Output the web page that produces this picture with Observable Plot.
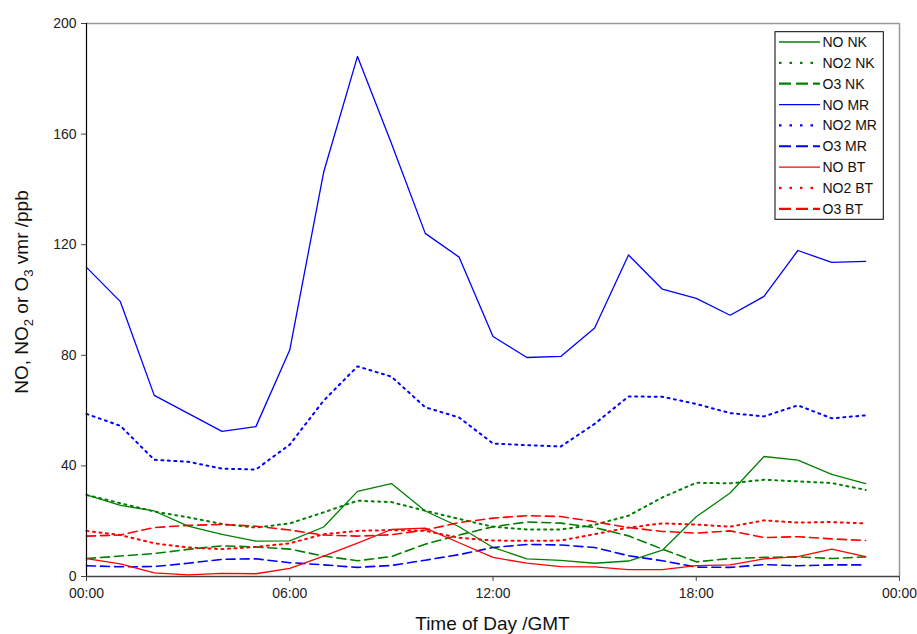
<!DOCTYPE html>
<html>
<head>
<meta charset="utf-8">
<script src="https://cdn.jsdelivr.net/npm/d3@7"></script>
<script src="https://cdn.jsdelivr.net/npm/@observablehq/plot@0.6"></script>
<style>
  html, body { margin: 0; padding: 0; background: #fff; }
  #chart { width: 917px; height: 634px; }
</style>
</head>
<body>
<div id="chart"></div>
<script>
// Hours of day (GMT)
const hours = [0,1,2,3,4,5,6,7,8,9,10,11,12,13,14,15,16,17,18,19,20,21,22,23];

// Series values (ppb)
const noNK  = [29.5,25.7,23.7,18.2,15.2,12.8,12.9,17.9,30.8,33.6,23.7,18.0,10.5,6.4,5.8,4.8,5.6,9.5,21.6,30.2,43.4,42.1,36.9,33.6];
const no2NK = [29.5,26.5,23.5,21.4,19.0,17.7,19.2,23.2,27.4,26.9,23.8,20.8,18.0,17.0,17.0,18.7,22.0,28.6,33.9,33.7,35.0,34.4,33.8,31.3];
const o3NK  = [6.5,7.4,8.3,9.8,11.1,10.7,9.9,7.4,5.7,7.2,11.7,15.0,18.0,19.7,19.3,17.7,14.7,9.9,5.3,6.5,6.9,7.1,6.5,7.1];
const noMR  = [111.8,99.4,65.5,59.0,52.5,54.2,81.9,146.2,188.1,156.7,124.1,115.5,86.8,79.2,79.6,89.9,116.3,103.9,100.6,94.5,101.3,117.9,113.6,114.0];
const no2MR = [58.8,54.5,42.2,41.5,39.0,38.7,47.7,63.6,76.0,72.3,61.2,57.5,48.1,47.5,47.0,55.2,65.1,65.0,62.4,59.1,57.9,61.9,57.2,58.3];
const o3MR  = [3.9,3.5,3.6,4.8,6.2,6.4,5.0,4.2,3.3,4.0,5.9,7.9,10.5,11.6,11.4,10.5,7.5,5.7,3.4,3.3,4.3,3.9,4.2,4.2];
const noBT  = [6.5,4.6,1.3,0.6,1.1,1.0,2.9,7.4,12.1,17.0,17.5,12.2,6.9,4.8,3.6,3.5,2.5,2.5,3.9,4.2,6.4,7.2,9.9,7.2];
const no2BT = [16.5,15.0,12.0,10.5,9.9,10.7,12.0,15.3,16.5,16.8,16.5,14.0,13.0,12.9,13.0,15.3,17.7,19.2,18.8,18.0,20.3,19.5,19.7,19.2];
const o3BT  = [14.6,15.0,17.7,18.5,18.8,18.2,16.8,15.0,14.6,15.1,16.8,19.5,21.1,22.0,21.7,19.8,17.7,16.3,15.7,16.5,14.1,14.4,13.6,13.0];

// Series names (legend order)
const seriesNames = ["NO NK","NO2 NK","O3 NK","NO MR","NO2 MR","O3 MR","NO BT","NO2 BT","O3 BT"];
const seriesValues = [noNK,no2NK,o3NK,noMR,no2MR,o3MR,noBT,no2BT,o3BT];

// Axis ticks
const xTicks = [0,6,12,18,24];
const xTickLabels = ["00:00","06:00","12:00","18:00","00:00"];
const yTicks = [0,40,80,120,160,200];

// Styles
const siteColors = {NK: "#008000", MR: "#0000ff", BT: "#ff0000"};
const styleFor = name => {
  const site = name.split(" ")[1];
  const species = name.split(" ")[0];
  if (species === "NO") return {stroke: siteColors[site], strokeWidth: 1.3, dash: null, legendDash: null};
  if (species === "NO2") return {stroke: siteColors[site], strokeWidth: 2, dash: "2,4.5", legendDash: "2.5,8"};
  return {stroke: siteColors[site], strokeWidth: 1.6, dash: "9,5", legendDash: "12,5"};
};

const tables = seriesNames.map((name, k) => hours.map((h, i) => ({h, v: seriesValues[k][i], name})));

const font = "'Liberation Sans', Arial, Helvetica, sans-serif";

const lineMarks = tables.map((t, k) => {
  const s = styleFor(seriesNames[k]);
  const opts = {x: "h", y: "v", stroke: s.stroke, strokeWidth: s.strokeWidth};
  if (s.dash) opts.strokeDasharray = s.dash;
  return Plot.line(t, opts);
});

const chart = Plot.plot({
  width: 917,
  height: 634,
  marginLeft: 86,
  marginTop: 23,
  marginRight: 18,
  marginBottom: 58,
  style: {fontFamily: font, fontSize: "14px", color: "#222", background: "#fff"},
  x: {domain: [0, 24]},
  y: {domain: [0, 200]},
  marks: [
    Plot.ruleY([200], {stroke: "#999", strokeWidth: 1.5}),
    Plot.ruleX([24], {stroke: "#999", strokeWidth: 1.5}),
    ...lineMarks,
    Plot.ruleX([0], {stroke: "#000", strokeWidth: 1.2}),
    Plot.ruleY([0], {stroke: "#444", strokeWidth: 1.5}),
    Plot.axisX({ticks: xTicks, tickFormat: (d, i) => xTickLabels[i], tickSize: 5, tickPadding: 7, label: null, fontSize: 14, stroke: "#444"}),
    Plot.axisY({ticks: yTicks, tickSize: 5, tickPadding: 5, label: null, fontSize: 14, stroke: "#444"})
  ]
});

document.getElementById("chart").appendChild(chart);

// Extra annotations: axis titles and legend
const svg = d3.select(chart);
const xs = chart.scale("x");

// X title
svg.append("text")
  .attr("x", (xs.apply(0) + xs.apply(24)) / 2)
  .attr("y", 630)
  .attr("text-anchor", "middle")
  .style("font-family", font)
  .style("font-size", "19px")
  .attr("fill", "#111")
  .text("Time of Day /GMT");

// Y title with subscripts
const yt = svg.append("text")
  .attr("transform", "translate(28,292) rotate(-90)")
  .attr("text-anchor", "middle")
  .style("font-family", font)
  .style("font-size", "19px")
  .attr("fill", "#111");
yt.append("tspan").text("NO, NO");
yt.append("tspan").attr("dy", 5).style("font-size", "13px").text("2");
yt.append("tspan").attr("dy", -5).text(" or O");
yt.append("tspan").attr("dy", 5).style("font-size", "13px").text("3");
yt.append("tspan").attr("dy", -5).text(" vmr /ppb");

// Legend
const lg = svg.append("g").attr("text-anchor", "start");
const lx0 = 775, ly0 = 31.7, lw = 108.3, lh = 187.6, rowH = 20.85;
lg.append("rect").attr("x", lx0).attr("y", ly0).attr("width", lw).attr("height", lh)
  .attr("fill", "#fff").attr("stroke", "#000").attr("stroke-width", 1);
seriesNames.forEach((name, i) => {
  const s = styleFor(name);
  const cy = ly0 + 10.3 + i * rowH;
  const ln = lg.append("line").attr("x1", lx0 + 4).attr("x2", lx0 + 45).attr("y1", cy).attr("y2", cy)
    .attr("stroke", s.stroke).attr("stroke-width", s.dash ? 2.2 : 1.3);
  if (s.legendDash) ln.attr("stroke-dasharray", s.legendDash);
  lg.append("text").attr("x", lx0 + 47.5).attr("y", cy).attr("dy", "0.36em")
    .attr("text-anchor", "start")
    .style("font-family", font).style("font-size", "14px").attr("fill", "#111").text(name);
});
</script>
</body>
</html>
